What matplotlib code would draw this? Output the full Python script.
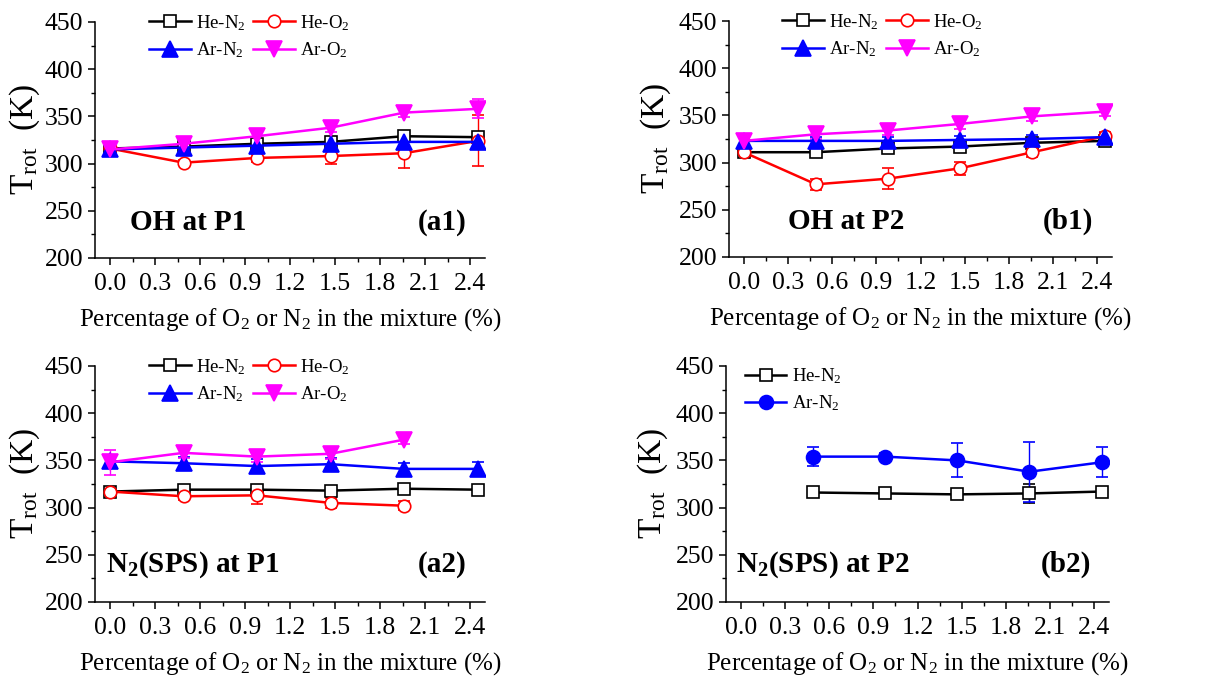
import matplotlib
matplotlib.use("Agg")
import matplotlib.pyplot as plt
from matplotlib.ticker import MultipleLocator, FormatStrFormatter

plt.rcParams['font.family'] = ['Liberation Serif', 'DejaVu Serif']
plt.rcParams['mathtext.fontset'] = 'custom'
plt.rcParams['mathtext.rm'] = 'Liberation Serif'
plt.rcParams['mathtext.it'] = 'Liberation Serif:italic'
plt.rcParams['mathtext.bf'] = 'Liberation Serif:bold'

# x positions (% of O2 or N2)
x_all = [0.0, 0.49, 0.98, 1.47, 1.96, 2.45]
x_a2_o2 = [0.0, 0.49, 0.98, 1.47, 1.96]
x_b2 = [0.49, 0.98, 1.47, 1.96, 2.45]

# (a1) OH at P1
a1_he_n2 = [316, 318, 321, 323, 329, 328]
a1_he_n2_err = [3, 3, 3, 4, 4, 4]
a1_he_o2 = [316, 301, 306, 308, 311, 324]
a1_he_o2_err = [3, 3, 4, 8, 16, 27]
a1_ar_n2 = [315, 317, 319, 321, 323, 323]
a1_ar_n2_err = [4, 8, 6, 6, 6, 6]
a1_ar_o2 = [315, 321, 329, 338, 354, 358]
a1_ar_o2_err = [4, 5, 5, 5, 5, 10]

# (b1) OH at P2
b1_he_n2 = [311, 311, 315, 317, 321, 323]
b1_he_n2_err = [3, 3, 3, 3, 3, 3]
b1_he_o2 = [311, 277, 283, 294, 311, 328]
b1_he_o2_err = [4, 6, 11, 7, 5, 4]
b1_ar_n2 = [323, 323, 323, 324, 325, 327]
b1_ar_n2_err = [4, 4, 4, 4, 4, 4]
b1_ar_o2 = [323, 330, 334, 341, 349, 354]
b1_ar_o2_err = [5, 5, 5, 5, 5, 5]

# (a2) N2(SPS) at P1
a2_he_n2 = [317, 319, 319, 318, 320, 319]
a2_he_n2_err = [3, 4, 4, 4, 5, 3]
a2_he_o2 = [317, 312, 313, 305, 302]
a2_he_o2_err = [3, 4, 9, 5, 5]
a2_ar_n2 = [349, 347, 344, 346, 341, 341]
a2_ar_n2_err = [4, 7, 7, 7, 6, 7]
a2_ar_o2 = [348, 358, 354, 357, 372]
a2_ar_o2_err = [13, 5, 6, 5, 5]

# (b2) N2(SPS) at P2
b2_he_n2 = [316, 315, 314, 315, 317]
b2_he_n2_err = [2, 2, 2, 10, 2]
b2_ar_n2 = [354, 354, 350, 338, 348]
b2_ar_n2_err = [10, 4, 18, 32, 16]

xticks = [0.0, 0.3, 0.6, 0.9, 1.2, 1.5, 1.8, 2.1, 2.4]

W, H = 1222, 687
fig = plt.figure(figsize=(W / 100, H / 100), dpi=100)


def make_ax(l, t, r, b):
    return fig.add_axes([l / W, 1 - b / H, (r - l) / W, (b - t) / H])


def style(ax, ylab_x):
    ax.set_xlim(-0.1, 2.5)
    ax.set_ylim(200, 450)
    ax.set_xticks(xticks)
    ax.xaxis.set_major_formatter(FormatStrFormatter('%.1f'))
    ax.xaxis.set_minor_locator(MultipleLocator(0.15))
    ax.yaxis.set_major_locator(MultipleLocator(50))
    ax.yaxis.set_minor_locator(MultipleLocator(25))
    ax.spines['top'].set_visible(False)
    ax.spines['right'].set_visible(False)
    for s in ('left', 'bottom'):
        ax.spines[s].set_linewidth(1.1)
    ax.tick_params(which='major', direction='out', length=5, width=1.1,
                   labelsize=18.5)
    ax.tick_params(axis='x', which='major', pad=6)
    ax.tick_params(which='minor', direction='out', length=3, width=1.0)
    ax.set_xlabel('Percentage of O$_2$ or N$_2$ in the mixture (%)',
                  fontsize=18, labelpad=8)
    ax.set_ylabel(r'T$_{\mathrm{rot}}$  (K)', fontsize=24)
    ax.yaxis.set_label_coords(ylab_x, 0.5)


def series(ax, x, y, err, color, marker, face, ms, label):
    c = ax.errorbar(x, y, yerr=err, color=color, marker=marker, ms=ms,
                    mfc=face, mec=color, mew=1.2, lw=1.8, elinewidth=1.0,
                    capsize=4, capthick=1.0)
    c[0].set_label(label)
    return c[0]


def four(ax, xs_o2, he_n2, he_n2e, he_o2, he_o2e, ar_n2, ar_n2e, ar_o2, ar_o2e):
    h1 = series(ax, x_all, he_n2, he_n2e, 'black', 's', 'white', 8.5, 'He-N$_2$')
    h2 = series(ax, xs_o2, he_o2, he_o2e, 'red', 'o', 'white', 9, 'He-O$_2$')
    h3 = series(ax, x_all, ar_n2, ar_n2e, 'blue', '^', 'blue', 11, 'Ar-N$_2$')
    h4 = series(ax, xs_o2, ar_o2, ar_o2e, 'magenta', 'v', 'magenta', 11, 'Ar-O$_2$')
    ax.legend(handles=[h1, h3, h2, h4], ncol=2, loc='upper left',
              bbox_to_anchor=(0.12, 1.07), frameon=False, fontsize=13.5,
              handlelength=2.2, handletextpad=0.3, columnspacing=0.4,
              labelspacing=0.4, borderaxespad=0)


ax1 = make_ax(95, 22, 485, 258)
four(ax1, x_all, a1_he_n2, a1_he_n2_err, a1_he_o2, a1_he_o2_err,
     a1_ar_n2, a1_ar_n2_err, a1_ar_o2, a1_ar_o2_err)
style(ax1, -0.135)
ax1.text(0.13, 230, 'OH at P1', fontsize=21, fontweight='bold')
ax1.text(2.05, 230, '(a1)', fontsize=21, fontweight='bold')

ax2 = make_ax(729, 21, 1112, 257)
four(ax2, x_all, b1_he_n2, b1_he_n2_err, b1_he_o2, b1_he_o2_err,
     b1_ar_n2, b1_ar_n2_err, b1_ar_o2, b1_ar_o2_err)
style(ax2, -0.145)
ax2.text(0.30, 230, 'OH at P2', fontsize=21, fontweight='bold')
ax2.text(2.03, 230, '(b1)', fontsize=21, fontweight='bold')

ax3 = make_ax(95, 366, 485, 602)
four(ax3, x_a2_o2, a2_he_n2, a2_he_n2_err, a2_he_o2, a2_he_o2_err,
     a2_ar_n2, a2_ar_n2_err, a2_ar_o2, a2_ar_o2_err)
style(ax3, -0.135)
ax3.text(-0.03, 232, r'N$_\mathbf{2}$(SPS) at P1', fontsize=21, fontweight='bold')
ax3.text(2.05, 232, '(a2)', fontsize=21, fontweight='bold')

ax4 = make_ax(726, 366, 1109, 602)
g1 = series(ax4, x_b2, b2_he_n2, b2_he_n2_err, 'black', 's', 'white', 8.5, 'He-N$_2$')
g2 = series(ax4, x_b2, b2_ar_n2, b2_ar_n2_err, 'blue', 'o', 'blue', 10, 'Ar-N$_2$')
ax4.legend(handles=[g1, g2], loc='upper left', bbox_to_anchor=(0.03, 1.03),
           frameon=False, fontsize=13.5, handlelength=2.2, handletextpad=0.3,
           labelspacing=0.4, borderaxespad=0)
style(ax4, -0.145)
ax4.text(-0.03, 232, r'N$_\mathbf{2}$(SPS) at P2', fontsize=21, fontweight='bold')
ax4.text(2.04, 232, '(b2)', fontsize=21, fontweight='bold')

fig.savefig('out.png', dpi=100)
